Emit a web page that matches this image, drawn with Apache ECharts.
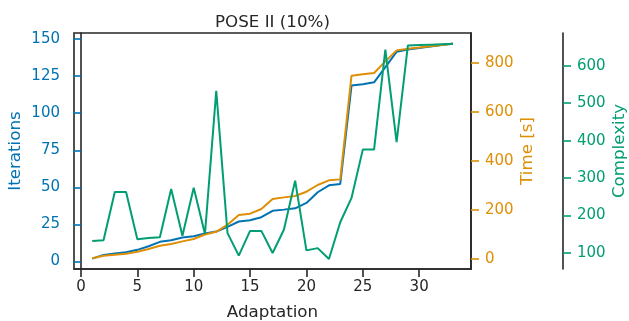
<!DOCTYPE html>
<html>
<head>
<meta charset="utf-8">
<script src="https://cdn.jsdelivr.net/npm/echarts@6/dist/echarts.min.js"></script>
<style>
  html, body { margin: 0; padding: 0; background: #fff; }
  #chart { width: 629px; height: 321px; }
</style>
</head>
<body>
<div id="chart"></div>
<script>
// Data
const adaptation = [1, 2, 3, 4, 5, 6, 7, 8, 9, 10, 11, 12, 13, 14, 15, 16, 17,
  18, 19, 20, 21, 22, 23, 24, 25, 26, 27, 28, 29, 30, 31, 32, 33]
const iterations = [2, 4.5, 5.4, 6.3, 7.9, 10.3, 13.3, 14.4, 16.2, 17.1, 18.9, 20.2, 23.4,
  27, 27.8, 29.9, 34.2, 35, 35.9, 39.5, 46.7, 51.4, 52.3, 118.6, 119.5, 120.8, 131,
  141.3, 142.9, 143.9, 144.9, 145.9, 146.9]
const timeSec = [3, 13.5, 17.6, 21.6, 29.8, 40.8, 54, 61, 72, 81.6, 100, 111, 140,
  179.6, 185, 204, 245, 251.5, 257, 274.7, 302, 321, 325, 748, 753.6, 759, 806.6,
  851.5, 858.5, 863, 868, 873, 879]
const complexity = [132, 134, 263, 263, 137, 140, 142, 271, 146, 274, 151, 533, 153,
  93, 159, 159, 100, 162, 293, 107, 113, 84, 182, 247, 376, 376, 643, 396, 654,
  655, 656, 657, 658]

const xTicks = [0, 5, 10, 15, 20, 25, 30]
const iterTicks = [0, 25, 50, 75, 100, 125, 150]
const timeTicks = [0, 200, 400, 600, 800]
const complexityTicks = [100, 200, 300, 400, 500, 600]

const blue = '#0173B2'
const orange = '#DE8F05'
const green = '#029E73'
const dark = '#262626'
const font = 'DejaVu Sans'

const pairs = (ys) => adaptation.map((x, i) => [x, ys[i]])

const yAxisBase = (color, ticks, name, gap) => ({
  type: 'value',
  name: name,
  nameLocation: 'middle',
  nameGap: gap,
  nameMoveOverlap: false,
  nameTextStyle: { color: color, fontFamily: font, fontSize: 16.7 },
  splitLine: { show: false },
  axisLine: { show: true, lineStyle: { color: dark, width: 1.6 } },
  axisTick: { show: true, inside: false, length: 8, customValues: ticks, lineStyle: { color: color, width: 1.6 } },
  axisLabel: { customValues: ticks, margin: 14, color: color, fontFamily: font, fontSize: 15 }
})

const chart = echarts.init(document.getElementById('chart'))
chart.setOption({
  animation: false,
  backgroundColor: '#fff',
  title: {
    text: 'POSE II (10%)',
    left: 210,
    top: 9,
    textStyle: { color: dark, fontFamily: font, fontSize: 16.7, fontWeight: 'normal' }
  },
  grid: {
    left: 74, right: 158, top: 33, bottom: 52,
    containLabel: false, outerBoundsMode: 'none',
    show: true, borderColor: dark, borderWidth: 1.6, backgroundColor: 'transparent'
  },
  xAxis: {
    type: 'value',
    min: -0.62,
    max: 34.6,
    name: 'Adaptation',
    nameLocation: 'middle',
    nameGap: 35,
    nameMoveOverlap: false,
    nameTextStyle: { color: dark, fontFamily: font, fontSize: 16.7 },
    splitLine: { show: false },
    axisLine: { show: true, onZero: false, lineStyle: { color: dark, width: 1.6 } },
    axisTick: { show: true, inside: false, length: 8, customValues: xTicks, lineStyle: { color: dark, width: 1.6 } },
    axisLabel: { customValues: xTicks, margin: 11, color: dark, fontFamily: font, fontSize: 15 }
  },
  yAxis: [
    Object.assign(yAxisBase(blue, iterTicks, 'Iterations', 50), { position: 'left', min: -5, max: 154 }),
    Object.assign(yAxisBase(orange, timeTicks, 'Time [s]', 48.5), { position: 'right', min: -40.8, max: 922.4 }),
    Object.assign(yAxisBase(green, complexityTicks, 'Complexity', 48.5), { position: 'right', offset: 92, min: 57.3, max: 687.3 })
  ],
  series: [
    {
      name: 'Iterations', type: 'line', yAxisIndex: 0, data: pairs(iterations),
      showSymbol: false, lineStyle: { color: blue, width: 2 }, itemStyle: { color: blue }, z: 2
    },
    {
      name: 'Time', type: 'line', yAxisIndex: 1, data: pairs(timeSec),
      showSymbol: false, lineStyle: { color: orange, width: 2 }, itemStyle: { color: orange }, z: 3
    },
    {
      name: 'Complexity', type: 'line', yAxisIndex: 2, data: pairs(complexity),
      showSymbol: false, lineStyle: { color: green, width: 2 }, itemStyle: { color: green }, z: 4
    }
  ]
})
</script>
</body>
</html>
